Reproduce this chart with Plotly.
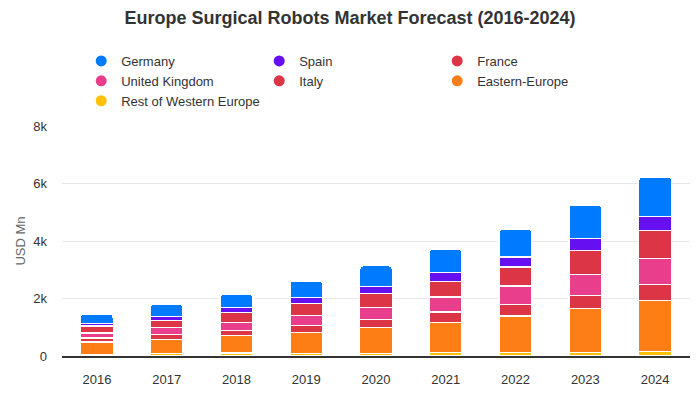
import plotly.graph_objects as go

years = ["2016", "2017", "2018", "2019", "2020", "2021", "2022", "2023", "2024"]

# values in USD Mn, stacked bottom -> top
rest_western = [60, 90, 100, 90, 90, 130, 130, 120, 160]
eastern_europe = [420, 490, 620, 730, 900, 1030, 1260, 1540, 1770]
italy = [150, 170, 170, 240, 280, 370, 410, 450, 560]
united_kingdom = [170, 240, 280, 350, 420, 520, 630, 730, 900]
france = [240, 240, 350, 420, 490, 550, 660, 830, 970]
spain = [90, 150, 170, 210, 240, 310, 350, 420, 490]
germany = [330, 430, 470, 570, 720, 810, 980, 1170, 1380]

series = [
    ("Rest of Western Europe", rest_western, "#ffc107"),
    ("Eastern-Europe", eastern_europe, "#fd7e14"),
    ("Italy", italy, "#dc3545"),
    ("United Kingdom", united_kingdom, "#e83e8c"),
    ("France", france, "#dc3545"),
    ("Spain", spain, "#6610f2"),
    ("Germany", germany, "#007bff"),
]
legend_order = ["Germany", "Spain", "France", "United Kingdom", "Italy",
                "Eastern-Europe", "Rest of Western Europe"]

fig = go.Figure()
for name, vals, color in series:
    fig.add_trace(go.Bar(
        x=years, y=vals, name=name, showlegend=False,
        marker=dict(color=color, line=dict(color="white", width=1.5)),
    ))

colors = {n: c for n, _, c in series}
for i, name in enumerate(legend_order):
    fig.add_trace(go.Scatter(
        x=[None], y=[None], mode="markers", name=name,
        marker=dict(symbol="circle", size=11, color=colors[name]),
        legendrank=i + 1,
    ))

fig.update_layout(
    width=700, height=400,
    barmode="stack", bargap=0.53, barcornerradius=4,
    plot_bgcolor="white", paper_bgcolor="white",
    font=dict(family="Liberation Sans, Arial, sans-serif", size=13, color="#333333"),
    title=dict(text="<b>Europe Surgical Robots Market Forecast (2016-2024)</b>",
               x=0.5, xanchor="center", y=0.955, yanchor="middle",
               font=dict(size=18, color="#333333")),
    margin=dict(l=62, r=10, t=126, b=44, autoexpand=False),
    legend=dict(orientation="h", xref="container", yref="container",
                x=0.116, xanchor="left", y=0.885, yanchor="top",
                traceorder="normal",
                entrywidth=133, entrywidthmode="pixels",
                font=dict(size=13, color="#333333"),
                tracegroupgap=0, itemwidth=30),
    xaxis=dict(showgrid=False, showline=True, linecolor="#333333", linewidth=2,
               ticks="", ticklabelstandoff=10,
               tickfont=dict(size=13, color="#333333"), fixedrange=True),
    yaxis=dict(range=[0, 8000], tickvals=[0, 2000, 4000, 6000, 8000],
               ticktext=["0", "2k", "4k", "6k", "8k"],
               showgrid=True, gridcolor="#e6e6e6", gridwidth=1,
               zeroline=False, ticks="", ticklen=0, ticklabelstandoff=14,
               tickfont=dict(size=13, color="#333333"),
               title=dict(text="USD Mn", font=dict(size=13, color="#666666"), standoff=4)),
)

fig.write_html("out.html")
